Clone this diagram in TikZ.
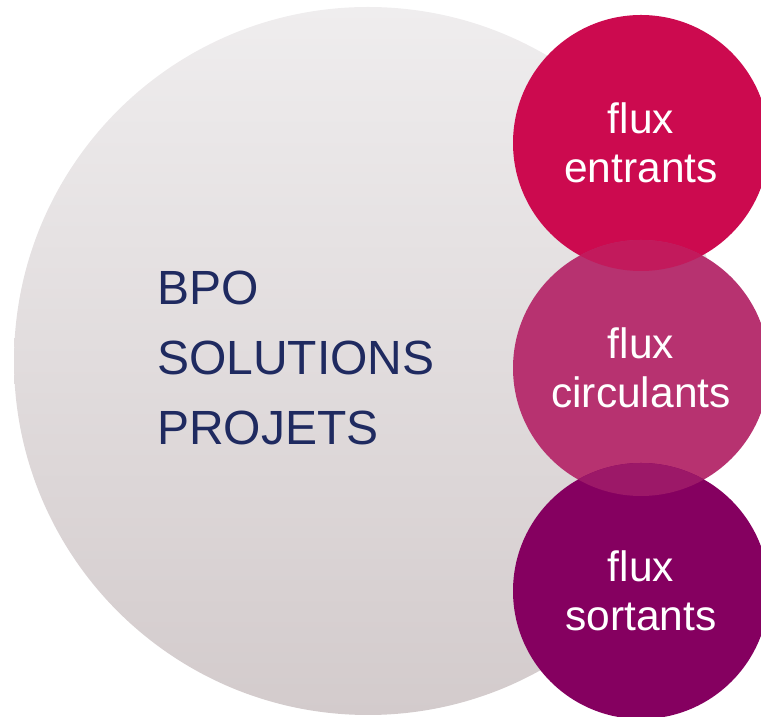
\documentclass[tikz,border=0pt]{standalone}
\usepackage{fontspec}
\setmainfont{Liberation Sans}
\usepackage{tikz}
\usetikzlibrary{positioning,calc}
\definecolor{bpoBlue}{RGB}{31,42,96}
\definecolor{bigTop}{RGB}{239,237,238}
\definecolor{bigBottom}{RGB}{211,203,204}
\definecolor{fluxIn}{RGB}{204,10,79}
\definecolor{fluxCirc}{RGB}{183,50,112}
\definecolor{fluxOut}{RGB}{133,0,96}
\definecolor{lensIn}{RGB}{194,26,92}
\definecolor{lensOut}{RGB}{156,24,104}

\begin{document}
\begin{tikzpicture}[x=1pt,y=1pt,
		fluxRond/.style={circle,minimum size=256pt,inner sep=0pt,align=center,text=white,font=\fontsize{42.5}{49}\selectfont},
		bpoTxt/.style={anchor=base west,inner sep=0pt,text=bpoBlue,font=\fontsize{48}{70}\selectfont}]
		\def\xBig{368}
		\def\yBig{356}
		\def\rBig{354}
		\def\xFlux{641}
		\def\yIn{574}
		\def\yCirc{349}
		\def\yOut{126}
		\def\rFlux{128}
		\def\xTxt{157}

\useasboundingbox (0,0) rectangle (761,717);

% grand disque
\shade[top color=bigTop,bottom color=bigBottom] (\xBig,\yBig) circle [radius=\rBig pt];

\node[bpoTxt] (bpo) at (\xTxt,412) {BPO};
\node[bpoTxt] (solutions) at (\xTxt,342) {SOLUTIONS};
\node[bpoTxt] (projets) at (\xTxt,272) {PROJETS};

% les trois flux
\node[fluxRond,fill=fluxIn] (entrants) at (\xFlux,\yIn) {flux\\entrants};
\node[fluxRond,fill=fluxCirc] (circulants) at (\xFlux,\yCirc) {flux\\circulants};
\node[fluxRond,fill=fluxOut] (sortants) at (\xFlux,\yOut) {flux\\sortants};

% recouvrements
\begin{scope}
	\clip (entrants.center) circle [radius=\rFlux pt];
	\fill[lensIn] (circulants.center) circle [radius=\rFlux pt];
\end{scope}
\begin{scope}
	\clip (circulants.center) circle [radius=\rFlux pt];
	\fill[lensOut] (sortants.center) circle [radius=\rFlux pt];
\end{scope}

	\end{tikzpicture}
\end{document}
